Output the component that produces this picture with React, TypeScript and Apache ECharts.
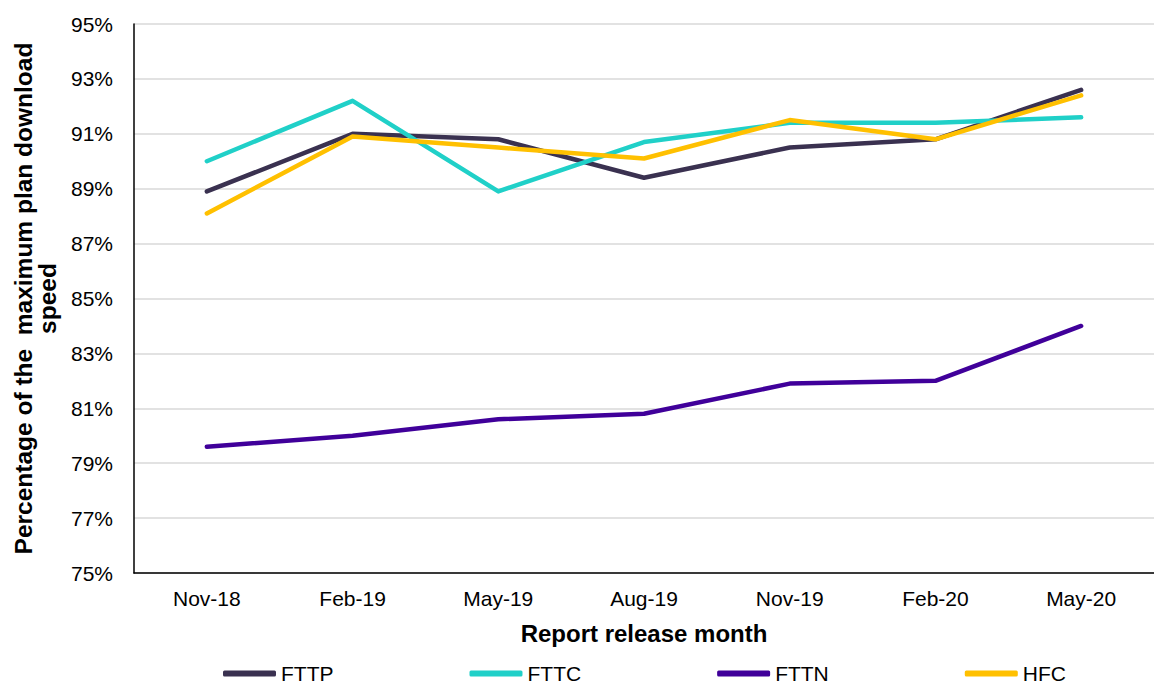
import React, { useEffect, useRef } from "react";
import * as echarts from "echarts";

const categories = ["Nov-18", "Feb-19", "May-19", "Aug-19", "Nov-19", "Feb-20", "May-20"];
const fttp = [88.9, 91.0, 90.8, 89.4, 90.5, 90.8, 92.6];
const fttc = [90.0, 92.2, 88.9, 90.7, 91.4, 91.4, 91.6];
const fttn = [79.6, 80.0, 80.6, 80.8, 81.9, 82.0, 84.0];
const hfc = [88.1, 90.9, 90.5, 90.1, 91.5, 90.8, 92.4];
const yTicks = { min: 75, max: 95, interval: 2 };

const FONT = "'Liberation Sans', Arial, sans-serif";

export default function App() {
  const ref = useRef<HTMLDivElement>(null);
  useEffect(() => {
    if (!ref.current) return;
    const chart = echarts.init(ref.current, undefined, { renderer: "svg" });
    const mk = (name: string, data: number[], color: string) => ({
      name,
      type: "line",
      data,
      symbol: "none",
      showSymbol: false,
      color,
      lineStyle: { width: 4.5, color, cap: "round", join: "round" },
    });
    chart.setOption({
      animation: false,
      textStyle: { fontFamily: FONT },
      grid: { left: 134, right: -15, top: 24, bottom: 111, containLabel: false },
      legend: {
        left: 218,
        top: 658,
        itemWidth: 53,
        itemHeight: 6,
        itemGap: 136,
        icon: "roundRect",
        textStyle: { fontSize: 21, color: "#000", fontFamily: FONT },
        data: ["FTTP", "FTTC", "FTTN", "HFC"],
      },
      xAxis: {
        type: "category",
        data: categories,
        boundaryGap: true,
        name: "Report release month",
        nameLocation: "middle",
        nameGap: 48,
        nameTextStyle: { fontSize: 24, fontWeight: "bold", color: "#000", fontFamily: FONT },
        axisLine: { lineStyle: { color: "#000", width: 1.5 } },
        axisTick: { show: false },
        axisLabel: { fontSize: 21, color: "#000", margin: 15, fontFamily: FONT },
      },
      yAxis: {
        type: "value",
        min: yTicks.min,
        max: yTicks.max,
        interval: yTicks.interval,
        name: "Percentage of the  maximum plan download\nspeed",
        nameLocation: "middle",
        nameGap: 72,
        nameTextStyle: {
          fontSize: 24.5,
          fontWeight: "bold",
          color: "#000",
          lineHeight: 24,
          align: "center",
          fontFamily: FONT,
        },
        axisLine: { show: true, lineStyle: { color: "#000", width: 1.5 } },
        axisTick: { show: false },
        axisLabel: { fontSize: 21, color: "#000", margin: 21, formatter: "{value}%", fontFamily: FONT },
        splitLine: { show: true, lineStyle: { color: "#d9d9d9", width: 1.5 } },
      },
      series: [
        mk("FTTP", fttp, "#3a3150"),
        mk("FTTC", fttc, "#20d0c8"),
        mk("FTTN", fttn, "#40009a"),
        mk("HFC", hfc, "#ffc000"),
      ],
    });
    return () => chart.dispose();
  }, []);
  return (
    <div
      ref={ref}
      style={{ position: "fixed", left: 0, top: 0, width: 1154, height: 684, background: "#fff" }}
    />
  );
}
